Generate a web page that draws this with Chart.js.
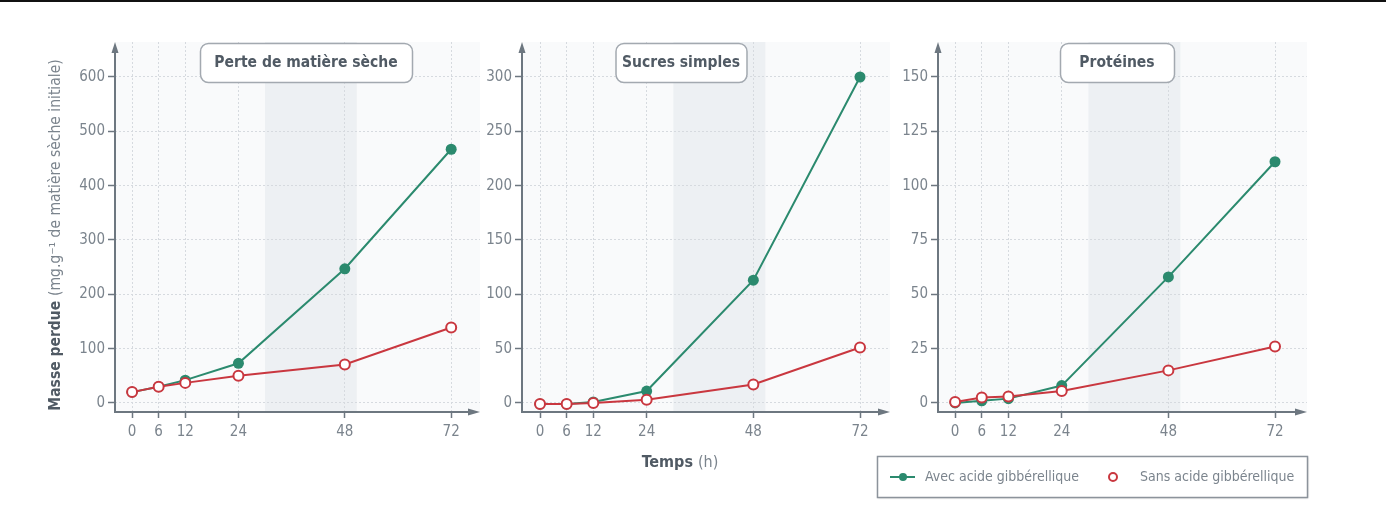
<!DOCTYPE html>
<html>
<head>
<meta charset="utf-8">
<script src="https://cdn.jsdelivr.net/npm/chart.js@4.4.1/dist/chart.umd.min.js"></script>
<style>
html, body { margin: 0; padding: 0; background: #fff; }
#wrap { position: relative; width: 1386px; height: 524px; overflow: hidden; }
#wrap canvas { position: absolute; left: 0; top: 0; }
#topline { position: absolute; left: 0; top: 0; width: 1386px; height: 2px; background: #111; }
</style>
</head>
<body>
<div id="wrap">
  <canvas id="c1" width="1386" height="524"></canvas>
  <canvas id="c2" width="1386" height="524"></canvas>
  <canvas id="c3" width="1386" height="524"></canvas>
  <div id="topline"></div>
</div>
<script>
// données
const hours = [0, 6, 12, 24, 48, 72];
const seriesNames = ["Avec acide gibbérellique", "Sans acide gibbérellique"];
const panelTitles = ["Perte de matière sèche", "Sucres simples", "Protéines"];

const matiereAvec = [20, 30, 42, 73, 247, 467];
const matiereSans = [20, 30, 37, 50, 71, 139];
const sucresAvec = [-1, -1, 1, 11, 113, 300];
const sucresSans = [-1, -1, 0, 3, 17, 51];
const proteinesAvec = [0, 1, 2, 8, 58, 111];
const proteinesSans = [0.5, 2.5, 3, 5.5, 15, 26];

const matiereTicks = [0, 100, 200, 300, 400, 500, 600];
const sucresTicks = [0, 50, 100, 150, 200, 250, 300];
const proteinesTicks = [0, 25, 50, 75, 100, 125, 150];

const shadedHours = [30, 50.7];

const FONT = '"Liberation Sans Narrow", "DejaVu Sans Condensed", "Noto Sans", sans-serif';
const GREEN = '#2b8a6e';
const RED = '#c9373f';
const AXIS = '#6d7780';
const TEXT = '#7b848d';
const DARK = '#505a64';

const panels = [
  { id: 'c1', title: panelTitles[0], avec: matiereAvec, sans: matiereSans, ticks: matiereTicks,
    yMin: -16.6, yMax: 664.4, xMin: -3.85, xMax: 78.5, left: 115, right: 480, boxCenter: 306, boxWidth: 212 },
  { id: 'c2', title: panelTitles[1], avec: sucresAvec, sans: sucresSans, ticks: sucresTicks,
    yMin: -8.3, yMax: 332.2, xMin: -4.05, xMax: 78.75, left: 522, right: 890, boxCenter: 681, boxWidth: 131 },
  { id: 'c3', title: panelTitles[2], avec: proteinesAvec, sans: proteinesSans, ticks: proteinesTicks,
    yMin: -4.15, yMax: 166.1, xMin: -3.85, xMax: 79.2, left: 938, right: 1307, boxCenter: 1117, boxWidth: 114 }
];

function roundRectPath(ctx, x, y, w, h, r) {
  ctx.beginPath();
  ctx.moveTo(x + r, y);
  ctx.lineTo(x + w - r, y);
  ctx.arcTo(x + w, y, x + w, y + r, r);
  ctx.lineTo(x + w, y + h - r);
  ctx.arcTo(x + w, y + h, x + w - r, y + h, r);
  ctx.lineTo(x + r, y + h);
  ctx.arcTo(x, y + h, x, y + h - r, r);
  ctx.lineTo(x, y + r);
  ctx.arcTo(x, y, x + r, y, r);
  ctx.closePath();
}

// texte en deux parties : gras + normal
function mixedText(ctx, bold, normal, size, cx, cy) {
  ctx.font = 'bold ' + size + 'px ' + FONT;
  const w1 = ctx.measureText(bold).width;
  ctx.font = size + 'px ' + FONT;
  const w2 = ctx.measureText(normal).width;
  let x = cx - (w1 + w2) / 2;
  ctx.textAlign = 'left';
  ctx.textBaseline = 'middle';
  ctx.font = 'bold ' + size + 'px ' + FONT;
  ctx.fillStyle = DARK;
  ctx.fillText(bold, x, cy);
  ctx.font = size + 'px ' + FONT;
  ctx.fillStyle = TEXT;
  ctx.fillText(normal, x + w1, cy);
}

const decor = {
  id: 'decor',
  beforeDraw(chart) {
    const { ctx, chartArea: a, scales: { x } } = chart;
    ctx.save();
    ctx.fillStyle = '#f9fafb';
    ctx.fillRect(a.left, a.top, a.right - a.left, a.bottom - a.top);
    const b0 = x.getPixelForValue(shadedHours[0]);
    const b1 = x.getPixelForValue(shadedHours[1]);
    ctx.fillStyle = '#edf0f3';
    ctx.fillRect(b0, a.top, b1 - b0, a.bottom - a.top);
    ctx.restore();
  },
  afterDraw(chart) {
    const { ctx, chartArea: a } = chart;
    const p = chart.options.plugins.decor;
    ctx.save();
    // axes avec flèches
    ctx.strokeStyle = AXIS;
    ctx.fillStyle = AXIS;
    ctx.lineWidth = 2;
    ctx.beginPath();
    ctx.moveTo(a.left, a.bottom);
    ctx.lineTo(a.left, a.top + 8);
    ctx.moveTo(a.left - 1, a.bottom);
    ctx.lineTo(a.right - 10, a.bottom);
    ctx.stroke();
    ctx.beginPath();
    ctx.moveTo(a.left, a.top);
    ctx.lineTo(a.left - 3.5, a.top + 11);
    ctx.lineTo(a.left + 3.5, a.top + 11);
    ctx.closePath();
    ctx.fill();
    ctx.beginPath();
    ctx.moveTo(a.right, a.bottom);
    ctx.lineTo(a.right - 12, a.bottom - 3.5);
    ctx.lineTo(a.right - 12, a.bottom + 3.5);
    ctx.closePath();
    ctx.fill();

    // cadre du titre
    const bx = p.boxCenter - p.boxWidth / 2;
    roundRectPath(ctx, bx + 0.5, a.top + 1.5, p.boxWidth, 39, 8);
    ctx.fillStyle = '#ffffff';
    ctx.fill();
    ctx.strokeStyle = '#a3a9b0';
    ctx.lineWidth = 1.5;
    ctx.stroke();
    ctx.fillStyle = DARK;
    ctx.font = 'bold 15.5px ' + FONT;
    ctx.textAlign = 'center';
    ctx.textBaseline = 'middle';
    ctx.fillText(p.title, p.boxCenter, a.top + 21);

    if (p.yTitle) {
      ctx.save();
      ctx.translate(56, 235);
      ctx.rotate(-Math.PI / 2);
      mixedText(ctx, 'Masse perdue ', '(mg.g\u207B\u00B9 de matière sèche initiale)', 15.5, 0, 0);
      ctx.restore();
    }
    if (p.xTitle) {
      mixedText(ctx, 'Temps ', '(h)', 16, 680, 463);
    }
    if (p.legend) {
      const lx = a.right - 430, ly = 456;
      ctx.save();
      ctx.shadowColor = 'rgba(0,0,0,0.25)';
      ctx.shadowOffsetX = 1;
      ctx.shadowOffsetY = 1;
      ctx.shadowBlur = 2;
      ctx.fillStyle = '#fff';
      ctx.fillRect(lx, ly, 430, 41);
      ctx.restore();
      ctx.strokeStyle = '#8c939b';
      ctx.lineWidth = 1.5;
      ctx.strokeRect(lx + 0.5, ly + 0.5, 430, 41);
      const my = ly + 21;
      ctx.strokeStyle = GREEN;
      ctx.lineWidth = 2;
      ctx.beginPath();
      ctx.moveTo(lx + 13, my);
      ctx.lineTo(lx + 38, my);
      ctx.stroke();
      ctx.fillStyle = GREEN;
      ctx.beginPath();
      ctx.arc(lx + 26, my, 4, 0, Math.PI * 2);
      ctx.fill();
      ctx.strokeStyle = RED;
      ctx.fillStyle = '#fff';
      ctx.beginPath();
      ctx.arc(lx + 236, my, 4, 0, Math.PI * 2);
      ctx.fill();
      ctx.stroke();
      ctx.fillStyle = TEXT;
      ctx.font = '14px ' + FONT;
      ctx.textAlign = 'left';
      ctx.textBaseline = 'middle';
      ctx.fillText(seriesNames[0], lx + 48, my);
      ctx.fillText(seriesNames[1], lx + 263, my);
    }
    ctx.restore();
  }
};

panels.forEach((p, i) => {
  new Chart(document.getElementById(p.id), {
    type: 'line',
    data: {
      datasets: [
        {
          label: seriesNames[0],
          data: hours.map((h, k) => ({ x: h, y: p.avec[k] })),
          borderColor: GREEN,
          backgroundColor: GREEN,
          borderWidth: 2,
          pointRadius: 5.5,
          pointBorderWidth: 0,
          pointBackgroundColor: GREEN,
          order: 1
        },
        {
          label: seriesNames[1],
          data: hours.map((h, k) => ({ x: h, y: p.sans[k] })),
          borderColor: RED,
          backgroundColor: '#fff',
          borderWidth: 2,
          pointRadius: 5,
          pointBorderWidth: 2,
          pointBackgroundColor: '#fff',
          pointBorderColor: RED,
          order: 0
        }
      ]
    },
    options: {
      responsive: false,
      animation: false,
      devicePixelRatio: 1,
      events: [],
      layout: {
        padding: { left: p.left - 40, right: 1386 - p.right, top: 42, bottom: 524 - 412 - 40 }
      },
      scales: {
        x: {
          type: 'linear',
          min: p.xMin,
          max: p.xMax,
          afterBuildTicks: (s) => { s.ticks = hours.map(v => ({ value: v })); },
          afterFit: (s) => { s.height = 40; },
          grid: { color: '#d6dadf', lineWidth: 1, tickColor: AXIS, tickLength: 6, tickWidth: 1.5, tickBorderDash: [] },
          border: { display: false, dash: [2, 2] },
          ticks: { color: TEXT, font: { family: FONT, size: 15 }, padding: 5, maxRotation: 0 }
        },
        y: {
          min: p.yMin,
          max: p.yMax,
          afterBuildTicks: (s) => { s.ticks = p.ticks.map(v => ({ value: v })); },
          afterFit: (s) => { s.width = 40; },
          grid: { color: '#d6dadf', lineWidth: 1, tickColor: AXIS, tickLength: 7, tickWidth: 1.5, tickBorderDash: [] },
          border: { display: false, dash: [2, 2] },
          ticks: { color: TEXT, font: { family: FONT, size: 15 }, padding: 3 }
        }
      },
      plugins: {
        legend: { display: false },
        tooltip: { enabled: false },
        decor: {
          title: p.title, boxCenter: p.boxCenter, boxWidth: p.boxWidth,
          yTitle: i === 0, xTitle: i === 1, legend: i === 2
        }
      }
    },
    plugins: [decor]
  });
});
</script>
</body>
</html>
